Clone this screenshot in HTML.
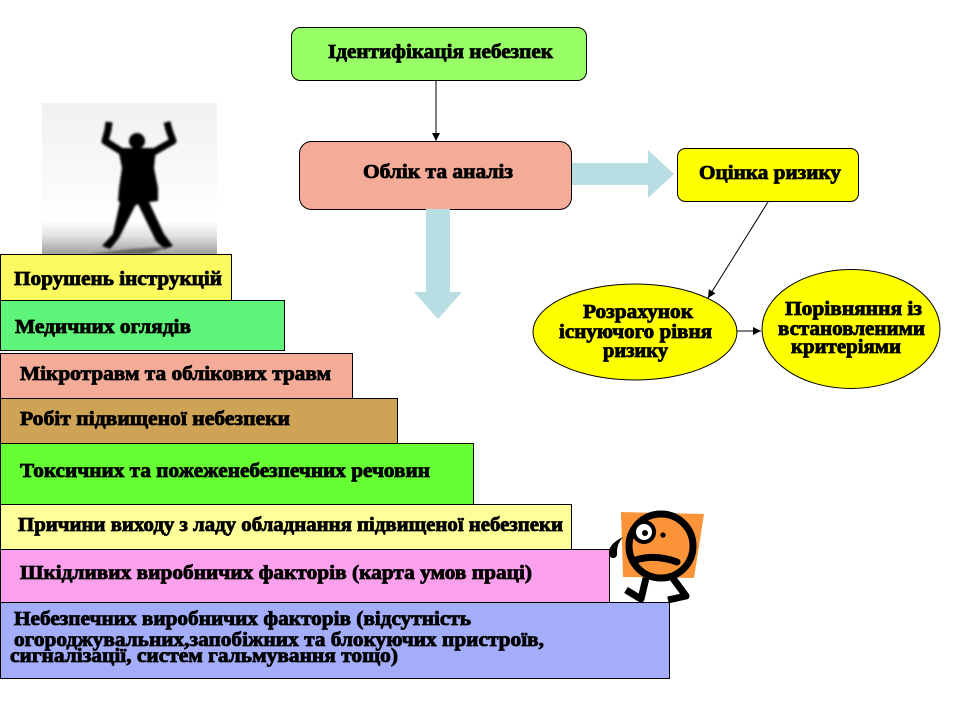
<!DOCTYPE html>
<html><head><meta charset="utf-8"><style>
html,body{margin:0;padding:0;background:#fff;width:960px;height:720px;overflow:hidden}
svg{display:block}
text{font-family:"Liberation Serif",serif;font-weight:bold;fill:#000;stroke:#000;stroke-width:.8;font-size:20px}
</style></head><body>
<svg width="960" height="720" viewBox="0 0 960 720" xmlns="http://www.w3.org/2000/svg">
<defs>
<linearGradient id="bg" x1="0" y1="0" x2="0" y2="1">
<stop offset="0" stop-color="#f1f1f1"/><stop offset=".55" stop-color="#fafafa"/><stop offset=".78" stop-color="#fff"/><stop offset=".88" stop-color="#e2e2e2"/><stop offset="1" stop-color="#a0a0a0"/>
</linearGradient>
<filter id="bl" x="-15%" y="-15%" width="130%" height="130%"><feGaussianBlur stdDeviation="1"/></filter>
<marker id="ah" markerWidth="9" markerHeight="9" refX="8" refY="4" orient="auto" markerUnits="userSpaceOnUse"><path d="M0,0L8,4L0,8Z" fill="#000"/></marker>
</defs>

<!-- silhouette -->
<rect x="42" y="103" width="175" height="151" fill="url(#bg)"/>
<g filter="url(#bl)">
<circle cx="137" cy="141" r="8" fill="#000"/>
<path d="M109,122 L108,130 L105,141 L124,153 M167,122 L169,130 L173,141 L152,153" fill="none" stroke="#000" stroke-width="7" stroke-linejoin="round"/>
<path d="M118,148 L156,148 L154,168 L158,188 L158,201 L149,202 L164,234 L173,246 L164,249 L156,241 L138,204 L135,206 L119,238 L110,249 L102,246 L113,234 L120,202 L118,201 L119,188 L122,168Z" fill="#000"/>
</g>
<path d="M90,254 Q130,248 168,247 L150,254Z" fill="#666" filter="url(#bl)"/>

<!-- stair rects -->
<g stroke="#000" stroke-width="1">
<rect x=".5" y="254.5" width="231" height="46" fill="#fafa60"/>
<rect x=".5" y="300.5" width="284" height="50" fill="#5ff57a"/>
<rect x=".5" y="353.5" width="352" height="45" fill="#f4ab98"/>
<rect x=".5" y="398.5" width="397" height="45" fill="#cfa355"/>
<rect x=".5" y="443.5" width="473" height="61" fill="#66ff33"/>
<rect x=".5" y="504.5" width="571" height="45" fill="#ffff99"/>
<rect x=".5" y="549.5" width="609" height="53" fill="#fba0ec"/>
</g>
<text x="14" y="285" textLength="208" lengthAdjust="spacingAndGlyphs">Порушень інструкцій</text>
<text x="15" y="333" textLength="176" lengthAdjust="spacingAndGlyphs">Медичних оглядів</text>
<text x="20" y="380" textLength="311" lengthAdjust="spacingAndGlyphs">Мікротравм та облікових травм</text>
<text x="20" y="425" textLength="270" lengthAdjust="spacingAndGlyphs">Робіт  підвищеної небезпеки</text>
<text x="20" y="477" textLength="410" lengthAdjust="spacingAndGlyphs">Токсичних та пожеженебезпечних речовин</text>
<text x="18" y="531" textLength="545" lengthAdjust="spacingAndGlyphs">Причини виходу з ладу обладнання підвищеної небезпеки</text>
<text x="20" y="579" textLength="512" lengthAdjust="spacingAndGlyphs">Шкідливих виробничих факторів (карта умов праці)</text>

<!-- worried man -->
<path d="M621,512 L704,514 L694,578 L623,577Z" fill="#fb9438"/>
<path d="M646,578 L641,599 L626,590" fill="none" stroke="#000" stroke-width="7" stroke-linejoin="round"/>
<path d="M672,577 L686,596 L668,600" fill="none" stroke="#000" stroke-width="7" stroke-linejoin="round"/>
<circle cx="661" cy="546" r="32" fill="#fb9438" stroke="#000" stroke-width="7"/>
<circle cx="644" cy="532" r="10" fill="#fff" stroke="#000" stroke-width="4"/>
<circle cx="645" cy="533" r="3" fill="#000"/>
<circle cx="663" cy="535" r="2.6" fill="#000"/>
<path d="M636,560 Q655,554 677,562" fill="none" stroke="#000" stroke-width="7" stroke-linecap="round"/>
<path d="M623,537 Q609,544 609,552 Q609,558 613,558 Q618,558 617,551 Q617,544 623,537Z" fill="#000"/>

<rect x=".5" y="602.5" width="669" height="76" fill="#a3adfa" stroke="#000"/>
<text x="14" y="625" textLength="457" lengthAdjust="spacingAndGlyphs">Небезпечних виробничих факторів (відсутність</text>
<text x="14" y="646" textLength="530" lengthAdjust="spacingAndGlyphs">огороджувальних,запобіжних та блокуючих пристроїв,</text>
<text x="10" y="662" textLength="388" lengthAdjust="spacingAndGlyphs">сигналізації, систем гальмування тощо)</text>

<!-- top boxes -->
<rect x="291.5" y="27.5" width="295" height="53" rx="9" fill="#99ff66" stroke="#000"/>
<text x="328" y="58" textLength="225" lengthAdjust="spacingAndGlyphs">Ідентифікація небезпек</text>
<line x1="436" y1="81" x2="436" y2="141" stroke="#000" marker-end="url(#ah)"/>
<rect x="299.5" y="141.5" width="272" height="68" rx="12" fill="#f4ab98" stroke="#000"/>
<text x="363" y="178" textLength="150" lengthAdjust="spacingAndGlyphs">Облік та аналіз</text>

<!-- block arrows -->
<path d="M572,163 H648 V150 L674,174 L648,198 V185 H572Z" fill="#b8dde2"/>
<path d="M426,209 H450 V292 H462 L438,319 L414,292 H426Z" fill="#b8dde2"/>

<!-- right side -->
<rect x="677.5" y="148.5" width="181" height="53" rx="8" fill="#ffff00" stroke="#000"/>
<text x="699" y="179" textLength="142" lengthAdjust="spacingAndGlyphs">Оцінка ризику</text>
<line x1="768" y1="202" x2="708" y2="298" stroke="#000" marker-end="url(#ah)"/>
<ellipse cx="635" cy="332" rx="102" ry="48" fill="#ffff00" stroke="#000"/>
<ellipse cx="851" cy="329" rx="89" ry="59.5" fill="#ffff00" stroke="#000"/>
<line x1="737" y1="331" x2="761" y2="331" stroke="#000" marker-end="url(#ah)"/>
<text x="583" y="318" textLength="110" lengthAdjust="spacingAndGlyphs">Розрахунок</text>
<text x="559" y="338" textLength="153" lengthAdjust="spacingAndGlyphs">існуючого рівня</text>
<text x="603" y="357" textLength="65" lengthAdjust="spacingAndGlyphs">ризику</text>
<text x="785" y="315" textLength="137" lengthAdjust="spacingAndGlyphs">Порівняння із</text>
<text x="778" y="335" textLength="147" lengthAdjust="spacingAndGlyphs">встановленими</text>
<text x="791" y="353" textLength="110" lengthAdjust="spacingAndGlyphs">критеріями</text>
</svg>
</body></html>
